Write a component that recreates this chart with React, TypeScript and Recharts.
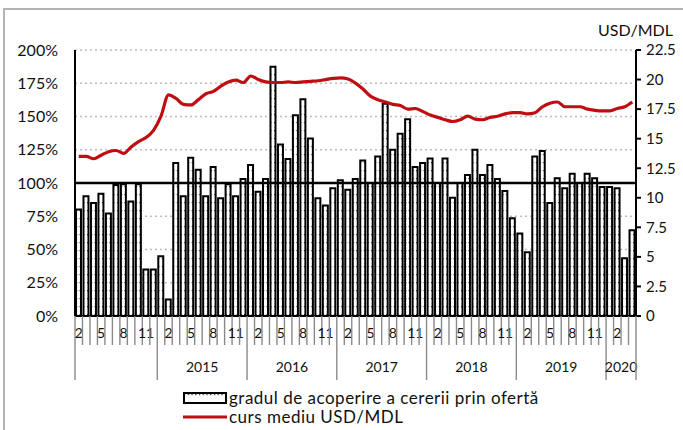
import React from 'react';
import { ComposedChart, Bar, Line, XAxis, YAxis, CartesianGrid, ReferenceLine } from 'recharts';

// gradul de acoperire a cererii prin ofertă, % (Feb 2014 - Apr 2020)
const cov2014 = [80, 90, 85, 92, 77, 98.5, 99, 86, 99, 35, 35];
const cov2015 = [45, 12.5, 115, 90, 119, 110, 90, 112, 88.5, 99, 90, 103];
const cov2016 = [113.5, 93.5, 103, 187.5, 129, 118, 151, 163, 133.5, 88.5, 83, 96];
const cov2017 = [102, 95, 103, 117, 100, 120, 159.5, 125, 137, 148, 112, 115];
const cov2018 = [118.5, 100, 118.5, 89, 100, 106, 125, 106, 113.5, 103, 94, 73.5];
const cov2019 = [62, 48, 120, 124, 85, 103.5, 96, 107, 100, 107, 103.5, 97];
const cov2020 = [97, 96, 43.5, 64.5];

// curs mediu USD/MDL
const usd2014 = [13.5, 13.5, 13.3, 13.6, 13.9, 14.0, 13.75, 14.3, 14.75, 15.1, 15.7];
const usd2015 = [16.9, 18.7, 18.4, 17.9, 17.85, 18.3, 18.8, 19.0, 19.45, 19.8, 19.95, 19.75];
const usd2016 = [20.3, 20.0, 19.8, 19.75, 19.75, 19.8, 19.75, 19.8, 19.85, 19.9, 20.0, 20.1];
const usd2017 = [20.15, 20.05, 19.7, 19.2, 18.6, 18.3, 18.1, 17.9, 17.8, 17.5, 17.55, 17.3];
const usd2018 = [17.0, 16.8, 16.6, 16.45, 16.6, 16.9, 16.65, 16.6, 16.8, 16.9, 17.1, 17.2];
const usd2019 = [17.2, 17.1, 17.2, 17.7, 18.0, 18.1, 17.7, 17.7, 17.7, 17.5, 17.4, 17.35];
const usd2020 = [17.35, 17.55, 17.7, 18.1];

const years = [2014, 2015, 2016, 2017, 2018, 2019, 2020];
const firstMonth = [2, 1, 1, 1, 1, 1, 1];
const coverage = [cov2014, cov2015, cov2016, cov2017, cov2018, cov2019, cov2020];
const usdMdl = [usd2014, usd2015, usd2016, usd2017, usd2018, usd2019, usd2020];
const labeledMonths = [2, 5, 8, 11];
const leftTicks = [0, 25, 50, 75, 100, 125, 150, 175, 200];
const rightTicks = [0, 2.5, 5, 7.5, 10, 12.5, 15, 17.5, 20, 22.5];

const data = years.flatMap((year, yi) =>
  coverage[yi].map((cov, k) => ({
    key: `${year}-${firstMonth[yi] + k}`,
    year,
    month: firstMonth[yi] + k,
    yearLen: coverage[yi].length,
    cov,
    usd: usdMdl[yi][k],
  }))
);

const W = 683;
const H = 430;
const PLOT_LEFT = 75;
const PLOT_RIGHT = 636;
const BAND = (PLOT_RIGHT - PLOT_LEFT) / data.length;
const FONT = 'Lato, "Open Sans", sans-serif';
const RED = '#c00d12';

const MonthTick = (props: any) => {
  const { x, y, index } = props;
  const d = data[index];
  if (!d) return null;
  const left = x - BAND / 2;
  const yearStart = index === 0 || d.month === 1;
  const isLast = index === data.length - 1;
  return (
    <g>
      <line x1={left} x2={left} y1={y} y2={yearStart ? y + 64 : y + 29} stroke="#8a8a8a" strokeWidth={1.4} />
      {isLast && (
        <line x1={x + BAND / 2} x2={x + BAND / 2} y1={y} y2={y + 64} stroke="#8a8a8a" strokeWidth={1.4} />
      )}
      {labeledMonths.includes(d.month) && (
        <text x={x} y={y + 22} textAnchor="middle" fontSize={14} fill="#111" fontFamily={FONT}>
          {d.month}
        </text>
      )}
      {d.month === 1 && (
        <text x={left + (d.yearLen * BAND) / 2} y={y + 56} textAnchor="middle" fontSize={14} fill="#111" fontFamily={FONT}>
          {d.year}
        </text>
      )}
    </g>
  );
};

export default function App() {
  return (
    <div style={{ position: 'absolute', left: 0, top: 0, width: W, height: H, background: '#fff', fontFamily: FONT }}>
      <svg width={0} height={0} style={{ position: 'absolute' }}>
        <defs>
          <pattern id="dots" patternUnits="userSpaceOnUse" width={3.74} height={8}>
            <rect width={3.74} height={8} fill="#fff" />
            <rect x={1} y={2} width={1.2} height={1.2} fill="#222" />
          </pattern>
        </defs>
      </svg>
      <div style={{ position: 'absolute', left: 3, top: 8, width: W - 3, height: H - 8, borderLeft: '2px solid #b3b3b3', borderTop: '2px solid #b3b3b3' }} />
      <ComposedChart
        width={W}
        height={H}
        data={data}
        margin={{ top: 50, right: 0, bottom: 0, left: 0 }}
        barCategoryGap={1}
        style={{ position: 'absolute', left: 0, top: 0 }}
      >
        <CartesianGrid yAxisId="left" vertical={false} stroke="#bdbdbd" strokeDasharray="2 3" strokeWidth={1.5} />
        <XAxis
          dataKey="key"
          interval={0}
          height={114}
          tickLine={false}
          tickSize={0}
          tickMargin={0}
          axisLine={{ stroke: '#000', strokeWidth: 2 }}
          tick={<MonthTick />}
        />
        <YAxis
          yAxisId="left"
          width={75}
          domain={[0, 200]}
          ticks={leftTicks}
          tickFormatter={(v: number) => `${v}%`}
          tickLine={false}
          tickMargin={11}
          axisLine={{ stroke: '#000', strokeWidth: 2 }}
          tick={{ fill: '#111', fontSize: 16, fontFamily: FONT }}
        />
        <YAxis
          yAxisId="right"
          orientation="right"
          width={47}
          domain={[0, 22.5]}
          ticks={rightTicks}
          tickSize={5}
          tickMargin={5}
          tickLine={{ stroke: '#000', strokeWidth: 2 }}
          axisLine={{ stroke: '#000', strokeWidth: 2 }}
          tick={{ fill: '#111', fontSize: 15, fontFamily: FONT }}
        />
        <Bar yAxisId="left" dataKey="cov" fill="url(#dots)" stroke="#000" strokeWidth={2} isAnimationActive={false} />
        <ReferenceLine yAxisId="left" y={100} stroke="#000" strokeWidth={2.5} />
        <Line yAxisId="right" type="monotone" dataKey="usd" stroke={RED} strokeWidth={3.2} dot={false} isAnimationActive={false} />
      </ComposedChart>
      <div style={{ position: 'absolute', left: 598, top: 20, fontSize: 16, color: '#111' }}>USD/MDL</div>
      <div style={{ position: 'absolute', left: 183, top: 387, display: 'flex', alignItems: 'center', fontSize: 17, letterSpacing: 0.5, color: '#111' }}>
        <svg width={44} height={12} style={{ marginRight: 2 }}>
          <rect x={1} y={1} width={42} height={10} fill="url(#dots)" stroke="#000" strokeWidth={2} />
        </svg>
        gradul de acoperire a cererii prin ofertă
      </div>
      <div style={{ position: 'absolute', left: 183, top: 406, display: 'flex', alignItems: 'center', fontSize: 17, letterSpacing: 0.5, color: '#111' }}>
        <svg width={44} height={12} style={{ marginRight: 2 }}>
          <line x1={0} x2={44} y1={6} y2={6} stroke={RED} strokeWidth={3} />
        </svg>
        curs mediu USD/MDL
      </div>
    </div>
  );
}
